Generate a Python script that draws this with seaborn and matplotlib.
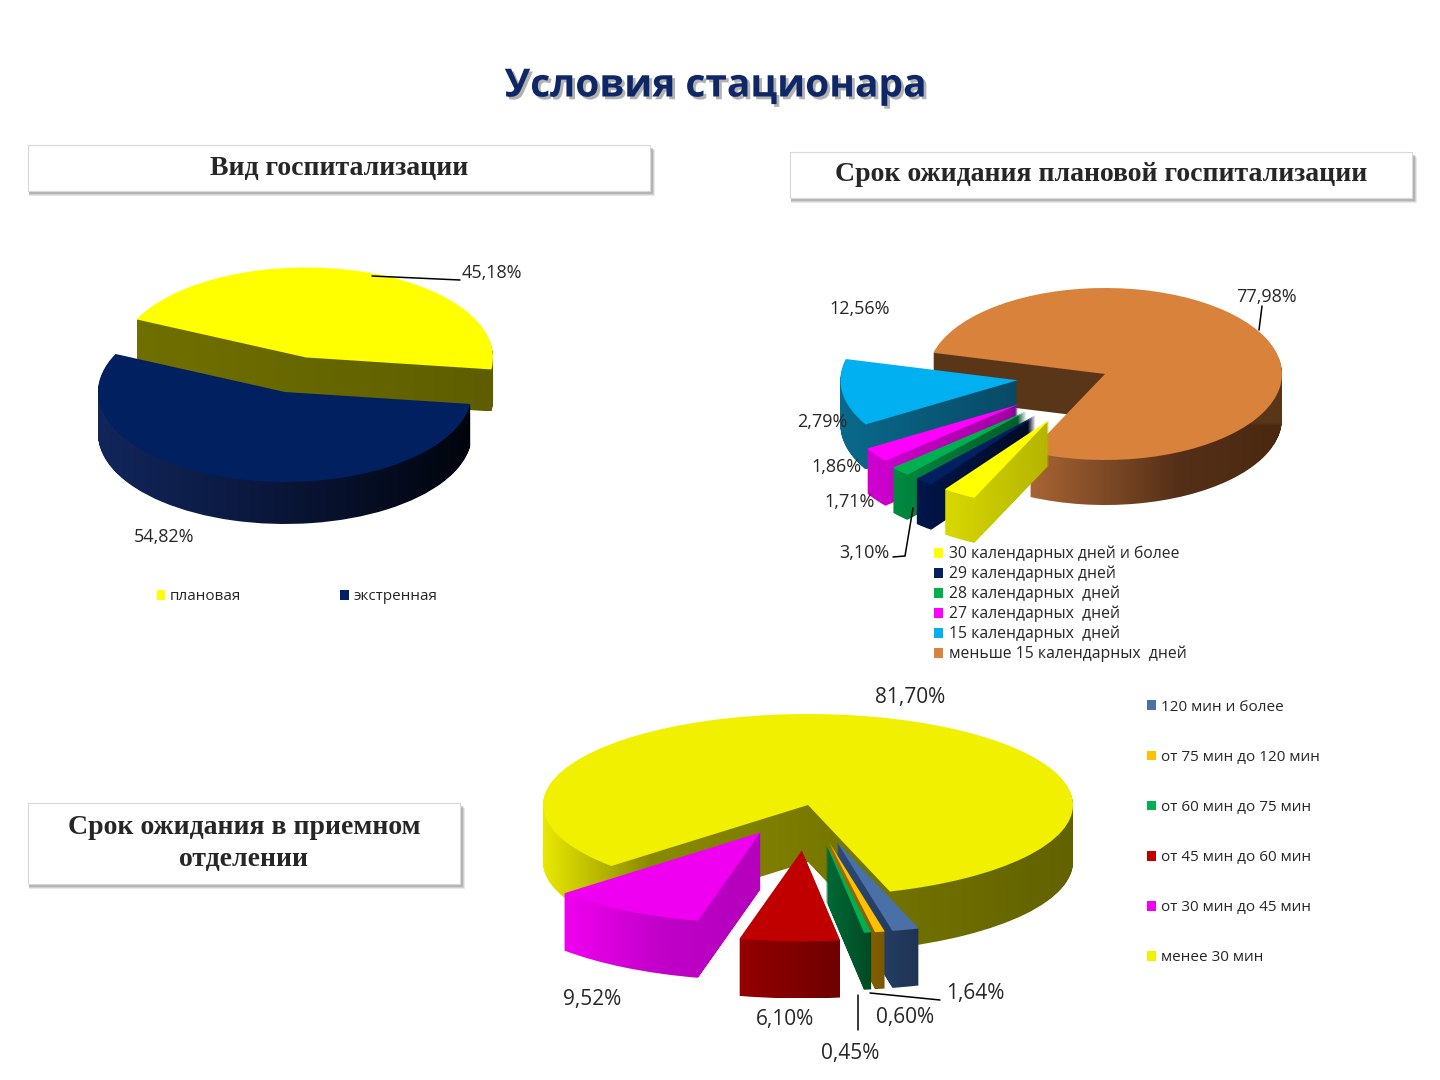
import numpy as np
import matplotlib
matplotlib.use("Agg")
import matplotlib.pyplot as plt
import matplotlib.patheffects as pe
from matplotlib.patches import Rectangle
from matplotlib.lines import Line2D
from matplotlib.path import Path
from matplotlib.colors import LinearSegmentedColormap, to_rgba
import seaborn as sns

sns.set_style("white")
plt.rcParams["font.family"] = ["Open Sans", "DejaVu Sans"]

W, H = 1440, 1080

# ---------------------------------------------------
# DATA
# ---------------------------------------------------

hosp_labels = ["плановая", "экстренная"]
hosp_values = [45.18, 54.82]
hosp_colors = ["#ffff00", "#002060"]

wait_labels = ["30 календарных дней и более", "29 календарных дней",
               "28 календарных  дней", "27 календарных  дней",
               "15 календарных  дней", "меньше 15 календарных  дней"]
wait_values = [3.10, 1.71, 1.86, 2.79, 12.56, 77.98]
wait_colors = ["#ffff00", "#002060", "#00b050", "#ff00ff", "#00b0f0", "#d9823b"]

er_labels = ["120 мин и более", "от 75 мин до 120 мин", "от 60 мин до 75 мин",
             "от 45 мин до 60 мин", "от 30 мин до 45 мин", "менее 30 мин"]
er_values = [1.64, 0.60, 0.45, 6.10, 9.52, 81.70]
er_colors = ["#4a70a8", "#ffc000", "#00b050", "#c00000", "#f000f0", "#f0f000"]

# wall shading (left -> right) for the fake 3D effect, plus optional colour for back walls
hosp_sides = [["#707000", "#5e5e00"], ["#12265c", "#0a1638", "#01040c"]]
hosp_backs = [None, None]
wait_sides = [["#d8d800", "#b4b400"], ["#00164a", "#000a24"], ["#008a40", "#005a2a"],
              ["#d000d0", "#a000a0"], ["#0a6a8c", "#084a66"],
              [(0, "#b46c38"), (0.22, "#b46c38"), (0.7, "#553018"), (1, "#4a2810")]]
wait_backs = [None, None, None, None, None, "#5a3618"]
er_sides = [["#2c4a78", "#1f3454"], ["#a07400", "#7a5800"], ["#006a36", "#004a24"],
            ["#950000", "#6e0000"], ["#f000f0", "#c000c8", "#b400bc"],
            [(0, "#e8e800"), (0.2, "#8a8a00"), (0.5, "#7a7a00"), (1, "#626200")]]
er_backs = [None] * 6


def fx(x):
    return x / W


def fy(y):
    return 1 - y / H


def pct(v):
    return f"{v:.2f}%".replace(".", ",")


fig = plt.figure(figsize=(14.4, 10.8), dpi=100)
fig.patch.set_facecolor("white")


# pseudo-3D pie: pies stacked downwards give the walls, a gradient is clipped to them
def pie3d(values, colors, sides, backs, center, rx, ry, depth, start, explode, order):
    ax = fig.add_axes([0, 0, 1, 1])
    cx, cy = center
    n = int(depth)
    layers = []
    for k in range(n, 0, -1):
        wedges, _ = ax.pie(values, startangle=start, counterclock=False,
                           explode=explode, center=(0, -k / ry), radius=1, frame=True)
        for w in wedges:
            w.set_visible(False)
        layers.append(wedges)
    top, _ = ax.pie(values, colors=colors, startangle=start, counterclock=False,
                    explode=explode, center=(0, 0), radius=1,
                    wedgeprops=dict(linewidth=0), frame=True)
    for i, w in enumerate(top):
        w.set_zorder(order[i] + 0.9)
        wall = Path.make_compound_path(*[lay[i].get_path() for lay in layers])
        ext = wall.get_extents()
        cmap = LinearSegmentedColormap.from_list(f"wall{i}", sides[i])
        img = np.repeat(cmap(np.linspace(0, 1, 256))[None, :, :], 64, axis=0)
        if backs[i] is not None:
            rows_y = np.linspace(ext.y0, ext.y1, 64)
            img[rows_y > -0.6] = to_rgba(backs[i])
        im = ax.imshow(img, aspect="auto", origin="lower",
                       extent=(ext.x0, ext.x1, ext.y0, ext.y1),
                       interpolation="bilinear", zorder=order[i] + 0.5)
        im.set_clip_path(wall, ax.transData)
    ax.set_aspect("auto")
    ax.set_xlim(-cx / rx, (W - cx) / rx)
    ax.set_ylim(-(H - cy) / ry, cy / ry)
    ax.axis("off")
    return ax, top


def title_box(x0, y0, x1, y1, text, fs=20):
    for off, a in [(5, 0.15), (4, 0.2), (3, 0.3)]:
        fig.add_artist(Rectangle((fx(x0 + 1), fy(y1 + off)), (x1 - x0 + off - 1) / W,
                                 (y1 - y0) / H, transform=fig.transFigure,
                                 facecolor="#707070", edgecolor="none", alpha=a))
    fig.add_artist(Rectangle((fx(x0), fy(y1)), (x1 - x0) / W, (y1 - y0) / H,
                             transform=fig.transFigure, facecolor="white",
                             edgecolor="#d8d8d8", linewidth=0.8))
    fig.text(fx((x0 + x1) / 2), fy((y0 + y1) / 2), text, ha="center", va="center",
             fontsize=fs, fontweight="bold", family="Liberation Serif",
             linespacing=1.4, zorder=5)


def leader(points):
    xs = [fx(p[0]) for p in points]
    ys = [fy(p[1]) for p in points]
    fig.add_artist(Line2D(xs, ys, transform=fig.transFigure, color="black", lw=1.1))


# ---------------------------------------------------
# TITLE AND HEADER BOXES
# ---------------------------------------------------

fig.text(fx(715), fy(86), "Условия стационара", ha="center", va="center",
         fontsize=28, fontweight="bold", color="#0f2766",
         path_effects=[pe.withSimplePatchShadow(offset=(2, -2), shadow_rgbFace="#808080", alpha=0.6)])

title_box(28, 145, 650, 191, "Вид госпитализации")
title_box(790, 152, 1412, 198, "Срок ожидания плановой госпитализации")
title_box(28, 803, 460, 884, "Срок ожидания в приемном\nотделении")

# ---------------------------------------------------
# 1. HOSPITALISATION TYPE
# ---------------------------------------------------

ax1, w1 = pie3d(hosp_values, hosp_colors, hosp_sides, hosp_backs, (285, 392), 187, 90, 42,
                155, [0.4, 0], [0, 1])
fig.text(fx(462), fy(273), pct(hosp_values[0]), ha="left", va="center", fontsize=13)
fig.text(fx(164), fy(537), pct(hosp_values[1]), ha="center", va="center", fontsize=13)
leader([(372, 276), (460, 280)])
fig.legend(w1, hosp_labels, ncol=2, loc="center left", bbox_to_anchor=(fx(143), fy(597)),
           frameon=False, fontsize=11, handlelength=0.55, handleheight=0.55,
           handletextpad=0.3, columnspacing=6.5)

# ---------------------------------------------------
# 2. WAITING TIME FOR PLANNED HOSPITALISATION
# ---------------------------------------------------

ax2, w2 = pie3d(wait_values, wait_colors, wait_sides, wait_backs, (1105, 374), 177, 86, 45,
                -115, [0.62, 0.62, 0.62, 0.6, 0.5, 0], [5, 4, 3, 2, 1, 0])
wait_pos = [(890, 553, "right"), (850, 502, "center"), (836, 467, "center"),
            (822, 422, "center"), (860, 309, "center"), (1266, 297, "center")]
for v, (x, y, ha) in zip(wait_values, wait_pos):
    fig.text(fx(x), fy(y), pct(v), ha=ha, va="center", fontsize=13)
leader([(1262, 306), (1259, 330)])
leader([(893, 557), (905, 556), (913, 508)])
fig.legend(w2, wait_labels, loc="upper left", bbox_to_anchor=(fx(926), fy(538)),
           frameon=False, fontsize=11.3, handlelength=0.6, handleheight=0.6,
           handletextpad=0.35, labelspacing=0.22, borderpad=0)

# ---------------------------------------------------
# 3. WAITING TIME IN ADMISSION DEPARTMENT
# ---------------------------------------------------

ax3, w3 = pie3d(er_values, er_colors, er_sides, er_backs, (808, 805), 265, 91, 57,
                -72, [0.42, 0.42, 0.42, 0.5, 0.35, 0], [2, 3, 4, 5, 1, 0])
er_pos = [(975, 994), (905, 1018), (850, 1053), (785, 1020), (592, 1000), (910, 697)]
for v, (x, y) in zip(er_values, er_pos):
    fig.text(fx(x), fy(y), pct(v), ha="center", va="center", fontsize=15)
leader([(870, 993), (940, 1000)])
leader([(858, 995), (858, 1030)])
fig.legend(w3, er_labels, loc="upper left", bbox_to_anchor=(fx(1139), fy(692)),
           frameon=False, fontsize=11, handlelength=0.6, handleheight=0.6,
           handletextpad=0.35, labelspacing=2.3, borderpad=0)

fig.savefig("out.png", dpi=100, facecolor="white")
